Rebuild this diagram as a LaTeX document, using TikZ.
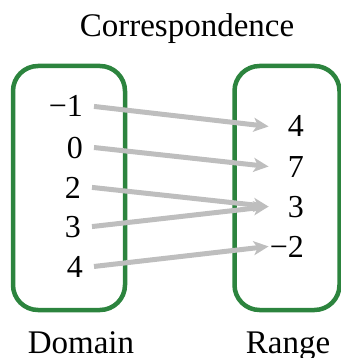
\documentclass[tikz,border=0pt]{standalone}
\usepackage{fontspec}
\setmainfont{Liberation Serif}
\usetikzlibrary{arrows.meta, positioning}
\definecolor{setgreen}{RGB}{44,132,62}
\definecolor{mapgray}{RGB}{190,190,190}
\newcommand{\setfont}{\fontsize{33}{40}\selectfont}
\newcommand{\numfont}{\fontsize{32}{38}\selectfont}

\begin{document}
\begin{tikzpicture}[
      x=1pt, y=-1pt,
      setbox/.style={rectangle, draw=setgreen, line width=4.5pt, rounded corners=25pt, inner sep=0pt},
      setname/.style={font=\setfont, anchor=base, inner sep=0pt},
      domnum/.style={font=\numfont, text width=34pt, align=right, inner xsep=11pt, inner ysep=0pt, anchor=base east},
      rannum/.style={font=\numfont, text width=34pt, align=right, inner xsep=1pt, inner ysep=0pt, anchor=base east},
      map/.style={-{Stealth[length=15pt, width=14pt, inset=4pt]}, draw=mapgray, line width=5pt}
  ]
  \useasboundingbox (0,0) rectangle (340,358);

  \node[setname] (title) at (187,37) {Correspondence};

  \node[setbox, minimum width=112pt, minimum height=244pt] (dombox) at (69,188) {};
  \node[setbox, minimum width=105pt, minimum height=244pt] (ranbox) at (287,188) {};

  \node[setname] (domname) at (81,353) {Domain};
  \node[setname] (ranname) at (288,353) {Range};

  \node[domnum] (dm1) at (94,117) {−1};
  \node[domnum] (d0) at (94,158) {0};
  \node[domnum] (d2) at (92,198) {2};
  \node[domnum] (d3) at (92,237) {3};
  \node[domnum] (d4) at (94,277) {4};

  \node[rannum] (r4) at (305,137) {4};
  \node[rannum] (r7) at (305,177) {7};
  \node[rannum] (r3) at (305,217) {3};
  \node[rannum] (rm2) at (305,257) {−2};

  \draw[map] (dm1.east) -- (r4.west);
  \draw[map] (d0.east) -- (r7.west);
  \draw[map] (d2.east) -- (r3.west);
  \draw[map] (d3.east) -- (r3.west);
  \draw[map] (d4.east) -- (rm2.west);

  \end{tikzpicture}
\end{document}
